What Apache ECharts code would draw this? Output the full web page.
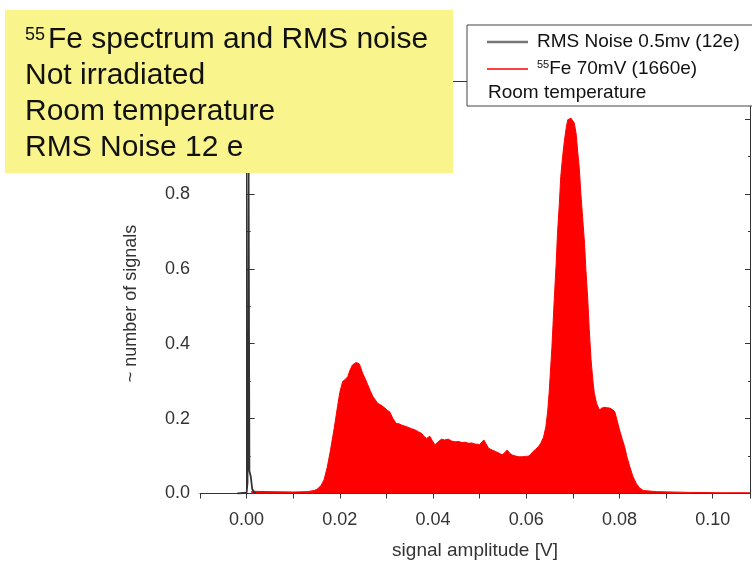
<!DOCTYPE html>
<html>
<head>
<meta charset="utf-8">
<title>55Fe spectrum and RMS noise</title>
<script src="https://cdn.jsdelivr.net/npm/echarts@6/dist/echarts.min.js"></script>
<style>
  html, body { margin:0; padding:0; background:#fff; }
  #chart { width:752px; height:561px; }
</style>
</head>
<body>
<div id="chart"></div>
<script>
// 55Fe spectrum (red, filled) and pedestal noise (grey)
var feAmp = [0.001, 0.005, 0.010, 0.013, 0.0145, 0.0152, 0.0160, 0.0166, 0.0173, 0.0180,
  0.0188, 0.0195, 0.0200, 0.0206, 0.0212, 0.0217, 0.0222, 0.0227, 0.0235, 0.0242,
  0.0249, 0.0255, 0.0260, 0.0266, 0.0271, 0.0276, 0.0281, 0.0288, 0.0296, 0.0302,
  0.0307, 0.0314, 0.0321, 0.0327, 0.0332, 0.0339, 0.0346, 0.0354, 0.0361, 0.0368,
  0.0375, 0.0381, 0.0386, 0.0393, 0.0398, 0.0404, 0.0411, 0.0418, 0.0425, 0.0433,
  0.0440, 0.0447, 0.0455, 0.0462, 0.0469, 0.0476, 0.0483, 0.0490, 0.0500, 0.0509,
  0.0514, 0.0519, 0.0527, 0.0534, 0.0541, 0.0548, 0.0553, 0.0559, 0.0565, 0.0570,
  0.0577, 0.0584, 0.0591, 0.0599, 0.0606, 0.0613, 0.0620, 0.0626, 0.0631, 0.0637,
  0.0642, 0.0646, 0.0649, 0.0655, 0.0660, 0.0664, 0.0667, 0.0671, 0.0674, 0.0678,
  0.0682, 0.0686, 0.0689, 0.0693, 0.0696, 0.0700, 0.0703, 0.0707, 0.0710, 0.0714,
  0.0717, 0.0721, 0.0725, 0.0728, 0.0732, 0.0735, 0.0739, 0.0743, 0.0746, 0.0751,
  0.0757, 0.0762, 0.0768, 0.0773, 0.0779, 0.0785, 0.0790, 0.0795, 0.0800, 0.0806,
  0.0811, 0.0816, 0.0822, 0.0829, 0.0836, 0.0843, 0.0851, 0.0880, 0.0950, 0.1020, 0.1080];
var feCounts = [0.006, 0.005, 0.004, 0.005, 0.008, 0.012, 0.022, 0.036, 0.070, 0.116,
  0.175, 0.232, 0.270, 0.299, 0.305, 0.312, 0.330, 0.343, 0.350, 0.346,
  0.321, 0.305, 0.290, 0.272, 0.259, 0.250, 0.241, 0.236, 0.229, 0.222,
  0.218, 0.200, 0.187, 0.186, 0.183, 0.180, 0.177, 0.173, 0.170, 0.165,
  0.161, 0.152, 0.147, 0.153, 0.142, 0.130, 0.138, 0.145, 0.143, 0.145,
  0.140, 0.138, 0.139, 0.136, 0.137, 0.134, 0.135, 0.132, 0.131, 0.143,
  0.132, 0.121, 0.116, 0.112, 0.108, 0.103, 0.108, 0.116, 0.107, 0.103,
  0.100, 0.098, 0.098, 0.099, 0.100, 0.110, 0.118, 0.125, 0.134, 0.150,
  0.178, 0.220, 0.268, 0.390, 0.517, 0.610, 0.695, 0.775, 0.846, 0.900,
  0.944, 0.978, 0.998, 1.003, 1.002, 0.998, 0.989, 0.960, 0.917, 0.865,
  0.802, 0.735, 0.668, 0.595, 0.517, 0.440, 0.357, 0.300, 0.268, 0.240,
  0.223, 0.228, 0.230, 0.229, 0.228, 0.224, 0.218, 0.195, 0.170, 0.145,
  0.125, 0.098, 0.072, 0.045, 0.027, 0.015, 0.008, 0.005, 0.003, 0.002, 0.002];
var noiseAmp = [-0.002, 0, 0.0002, 0.0004, 0.0006, 0.0009, 0.0012, 0.0016, 0.002];
var noiseCounts = [0, 0.002, 0.03, 1.0, 0.06, 0.045, 0.012, 0.004, 0.002];

var xTickLabels = ['0.00', '0.02', '0.04', '0.06', '0.08', '0.10'];
var yTickLabels = ['0.0', '0.2', '0.4', '0.6', '0.8', '1.0'];

var noiseName = 'RMS Noise 0.5mv (12e)';
var feName = '55Fe 70mV (1660e)';

function pairs(xs, ys) {
  return xs.map(function (x, i) { return [x, ys[i]]; });
}

var font = "'Liberation Sans', Arial, sans-serif";
var chart = echarts.init(document.getElementById('chart'));

chart.setOption({
  animation: false,
  textStyle: { fontFamily: font },
  grid: { left: 200, right: 2, top: 81.5, bottom: 67.5, outerBoundsMode: 'none' },
  xAxis: [
    {
      type: 'value', min: -0.01, max: 0.108, interval: 0.01,
      name: 'signal amplitude [V]', nameLocation: 'middle', nameGap: 48,
      nameTextStyle: { fontSize: 19, color: '#333' },
      splitLine: { show: false },
      axisLine: { lineStyle: { color: '#333', width: 1 } },
      axisTick: { inside: false, length: 5, lineStyle: { color: '#333' } },
      axisLabel: {
        fontSize: 18, color: '#333', margin: 18,
        formatter: function (v) {
          var s = v.toFixed(2);
          return (Math.abs(v - parseFloat(s)) < 1e-9 && xTickLabels.indexOf(s) >= 0) ? s : '';
        }
      }
    },
    {
      type: 'value', position: 'top', min: -0.01, max: 0.108,
      axisLine: { onZero: false, lineStyle: { color: '#333' } },
      axisTick: { show: false }, axisLabel: { show: false }, splitLine: { show: false }
    }
  ],
  yAxis: [
    {
      type: 'value', min: 0, max: 1.1, interval: 0.2,
      name: '~ number of signals', nameLocation: 'middle', nameGap: 60,
      nameTextStyle: { fontSize: 18, color: '#333', padding: [0, 32, 0, 0] },
      splitLine: { show: false },
      axisLine: { show: true, lineStyle: { color: '#333' } },
      axisTick: { inside: true, length: 8, lineStyle: { color: '#333' } },
      minorTick: { show: true, splitNumber: 2, length: 4, lineStyle: { color: '#333' } },
      axisLabel: {
        fontSize: 18, color: '#333', margin: 10,
        formatter: function (v) {
          var s = v.toFixed(1);
          return yTickLabels.indexOf(s) >= 0 ? s : '';
        }
      }
    },
    {
      type: 'value', position: 'right', min: 0, max: 1.1, interval: 0.2,
      splitLine: { show: false },
      axisLine: { show: true, onZero: false, lineStyle: { color: '#333' } },
      axisTick: { inside: true, length: 5, lineStyle: { color: '#333' } },
      minorTick: { show: true, splitNumber: 2, length: 2, lineStyle: { color: '#333' } },
      axisLabel: { show: false }
    }
  ],
  legend: [
    {
      data: [noiseName], orient: 'vertical', left: 487, top: 32, padding: 0,
      icon: 'rect', itemWidth: 41, itemHeight: 2.5,
      textStyle: { fontSize: 19, color: '#111', lineHeight: 20, padding: [0, 0, 0, 4] }
    },
    {
      data: [feName], orient: 'vertical', left: 487, top: 59, padding: 0,
      icon: 'rect', itemWidth: 41, itemHeight: 1.5,
      formatter: function (n) { return '{s|55}' + n.replace('55', ''); },
      textStyle: {
        fontSize: 19, color: '#111', lineHeight: 20, padding: [0, 0, 0, 4],
        rich: { s: { fontSize: 11, verticalAlign: 'top', lineHeight: 20, color: '#111' } }
      }
    }
  ],
  graphic: [
    {
      type: 'rect', z: 3, shape: { x: 467, y: 25, width: 300, height: 81 },
      style: { fill: '#fff', stroke: '#444', lineWidth: 1 }
    },
    {
      type: 'text', z: 5, x: 488, y: 93,
      style: { text: 'Room temperature', font: '19px ' + font, fill: '#111', textVerticalAlign: 'middle' }
    },
    {
      type: 'group', z: 10,
      children: [
        { type: 'rect', z: 10, shape: { x: 5, y: 10, width: 448, height: 163 }, style: { fill: '#f9f58c' } },
        { type: 'text', z: 11, x: 25, y: 35, style: { text: '55', font: '18px ' + font, fill: '#111', textVerticalAlign: 'middle' } },
        { type: 'text', z: 11, x: 48, y: 40, style: { text: 'Fe spectrum and RMS noise', font: '30px ' + font, fill: '#111', textVerticalAlign: 'middle' } },
        { type: 'text', z: 11, x: 25, y: 76, style: { text: 'Not irradiated', font: '30px ' + font, fill: '#111', textVerticalAlign: 'middle' } },
        { type: 'text', z: 11, x: 25, y: 112, style: { text: 'Room temperature', font: '30px ' + font, fill: '#111', textVerticalAlign: 'middle' } },
        { type: 'text', z: 11, x: 25, y: 148, style: { text: 'RMS Noise 12 e', font: '30px ' + font, fill: '#111', textVerticalAlign: 'middle' } }
      ]
    }
  ],
  series: [
    {
      name: noiseName, type: 'line', symbol: 'none',
      data: pairs(noiseAmp, noiseCounts),
      itemStyle: { color: '#777' },
      lineStyle: { color: '#333', width: 1.8 },
      z: 3
    },
    {
      name: feName, type: 'line', symbol: 'none',
      data: pairs(feAmp, feCounts),
      itemStyle: { color: '#ff0000' },
      lineStyle: { color: '#ff0000', width: 1 },
      areaStyle: { color: '#ff0000', opacity: 1 },
      z: 2
    }
  ]
});
</script>
</body>
</html>
